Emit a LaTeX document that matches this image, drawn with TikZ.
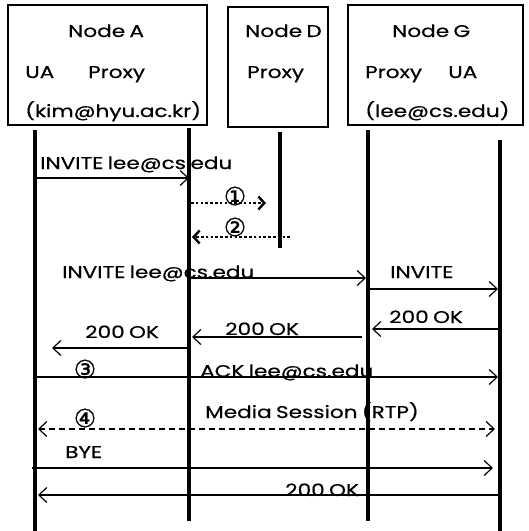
\documentclass[tikz,border=0pt]{standalone}
\usepackage{fontspec}
\setmainfont[FakeStretch=1.27,WordSpace=0.75,FakeBold=0.5]{Poppins}
\newfontfamily\circfont[FakeBold=0.8]{DejaVu Sans}
\usetikzlibrary{arrows.meta}

\begin{document}
\begin{tikzpicture}[x=1pt,y=-1pt,
        every node/.style={inner sep=0pt,font=\fontsize{17}{19}\selectfont},
        box/.style={draw,line width=1.3pt,inner sep=0pt},
        life/.style={line width=3.5pt},
        msg/.style={line width=1.2pt,-{Straight Barb[length=8pt,width=15pt,line width=1.2pt]}},
        dotmsg/.style={line width=2.6pt,dash pattern=on 2.6pt off 2.2pt,-{Straight Barb[length=6pt,width=13pt,line width=2.4pt]}},
        both/.style={line width=1.2pt,dash pattern=on 6pt off 4pt,{Straight Barb[length=8pt,width=15pt,line width=1.2pt]}-{Straight Barb[length=8pt,width=15pt,line width=1.2pt]}},
        lbl/.style={anchor=base west},
        num/.style={font=\circfont\fontsize{25}{25}\selectfont}]
            \useasboundingbox (0,0) rectangle (529,531);

            % boxes
            \node[box,minimum width=199pt,minimum height=120pt] (boxA) at (107.5,65) {};
            \node[box,minimum width=100pt,minimum height=120pt] (boxD) at (278,67) {};
            \node[box,minimum width=175pt,minimum height=120pt] (boxG) at (435.5,65) {};

            \node[lbl] at (68,37) {Node A};
            \node[lbl] at (25,78) {UA};
            \node[lbl] at (88,78) {Proxy};
            \node[lbl] at (25,117) {(kim@hyu.ac.kr)};

            \node[lbl] at (245,37) {Node D};
            \node[lbl] at (247,78) {Proxy};

            \node[lbl] at (392,37) {Node G};
            \node[lbl] at (365,78) {Proxy};
            \node[lbl] at (448,78) {UA};
            \node[lbl] at (365,117) {(lee@cs.edu)};

            % lifelines
            \coordinate (uaAt) at (35,130);   \coordinate (uaAb) at (35,531);
            \coordinate (prAt) at (189,128);  \coordinate (prAb) at (189,521);
            \coordinate (prDt) at (280,132);  \coordinate (prDb) at (280,248);
            \coordinate (prGt) at (368,130);  \coordinate (prGb) at (368,521);
            \coordinate (uaGt) at (500,140);  \coordinate (uaGb) at (500,531);
            \draw[life] (uaAt) -- (uaAb);
            \draw[life] (prAt) -- (prAb);
            \draw[life] (prDt) -- (prDb);
            \draw[life] (prGt) -- (prGb);
            \draw[life] (uaGt) -- (uaGb);

            % messages
            \draw[msg] (uaAt |- 0,178) -- (prAt |- 0,178);
            \node[lbl] at (40,169) {INVITE lee@cs.edu};

            \draw[dotmsg] (191,203) -- (266,203);
            \node[num] at (235,196) {①};
            \draw[dotmsg] (290,237) -- (192,237);
            \node[num] at (235,227) {②};

            \draw[msg] (prAt |- 0,278) -- (366,278);
            \node[lbl] at (62,278) {INVITE lee@cs.edu};

            \draw[msg] (prGt |- 0,289) -- (498,289);
            \node[lbl] at (390,278) {INVITE};

            \draw[msg] (uaGt |- 0,329) -- (372,329);
            \node[lbl] at (389,323) {200 OK};

            \draw[msg] (362,337) -- (192,337);
            \node[lbl] at (225,335) {200 OK};

            \draw[msg] (prAt |- 0,348) -- (52,348);
            \node[lbl] at (85,338) {200 OK};

            \draw[msg] (uaAt |- 0,377) -- (498,377);
            \node[num] at (85,369) {③};
            \node[lbl] at (200,377) {ACK lee@cs.edu};

            \draw[both] (38,429) -- (495,429);
            \node[num] at (85,418) {④};
            \node[lbl] at (205,418) {Media Session (RTP)};

            \draw[msg] (32,468) -- (493,468);
            \node[lbl] at (65,458) {BYE};

            \draw[msg] (uaGt |- 0,495) -- (38,495);
            \node[lbl] at (285,496) {200 OK};
        \end{tikzpicture}
\end{document}
